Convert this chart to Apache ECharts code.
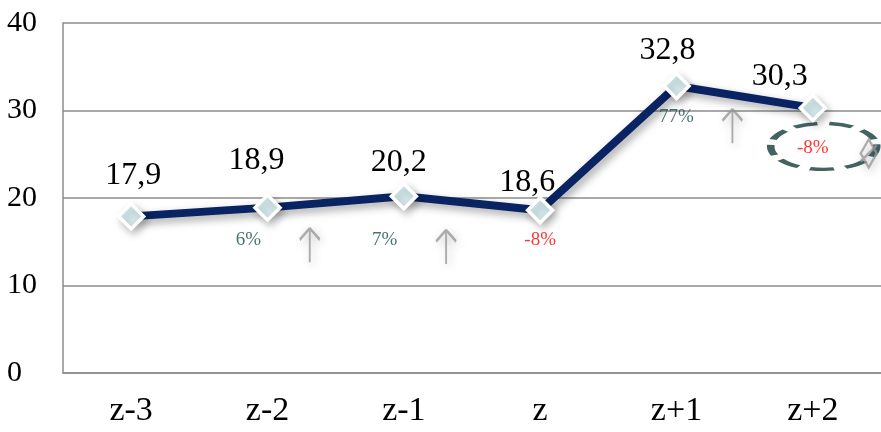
<!DOCTYPE html>
<html>
<head>
<meta charset="utf-8">
<script src="https://cdn.jsdelivr.net/npm/echarts@6/dist/echarts.min.js"></script>
<style>
  html, body { margin: 0; padding: 0; background: #fff; }
  #chart { width: 881px; height: 432px; }
</style>
</head>
<body>
<div id="chart"></div>
<script>
// data
var periods = ['z-3', 'z-2', 'z-1', 'z', 'z+1', 'z+2'];
var values = [17.9, 18.9, 20.2, 18.6, 32.8, 30.3];
var yTicks = [0, 10, 20, 30, 40];

// growth notes: [x in category units, y value, text]
var growthX = [0.86, 1.86, 3.0, 4.0, 5.0];
var growthY = [15.2, 15.2, 15.2, 29.3, 25.7];
var growthText = ['6%', '7%', '-8%', '77%', '-8%'];
var growthRed = [false, false, true, false, true];

// up arrows between points
var arrowX = [1.31, 2.31, 4.41];
var arrowY = [14.6, 14.4, 28.2];

// value label placement around each point (px)
var labelLift = [11, 17, 3, -3, 5, 1];
var labelShift = [2, -11, -5, -13, -9, -33];

var serif = '"Liberation Serif", "DejaVu Serif", serif';
var navy = '#0a2362';
var teal = '#1f4d4d';
var grid = '#8c8c8c';

var chart = echarts.init(document.getElementById('chart'), null, { renderer: 'canvas' });

var arrowPath = 'path://M0,0 L-10,12 M0,0 L10,12 M0,0 L0,36';
var oddPath = 'path://M8,0 L16,14 L8,28 L0,14 Z M0,22 L16,6';

chart.setOption({
  animation: false,
  grid: { left: 63, right: -1, top: 23, bottom: 59 },
  xAxis: [{
    type: 'category',
    data: periods,
    axisLine: { lineStyle: { color: grid, width: 1.5 } },
    axisTick: { show: false },
    axisLabel: { color: '#000', fontFamily: serif, fontSize: 34, margin: 21 }
  }, {
    type: 'value',
    min: -0.5, max: 5.5,
    show: false
  }],
  yAxis: {
    type: 'value',
    min: yTicks[0], max: yTicks[yTicks.length - 1], interval: 10,
    axisLine: { show: true, onZero: false, lineStyle: { color: grid, width: 1.5 } },
    axisTick: { show: false },
    splitLine: { lineStyle: { color: grid, width: 1.5 } },
    axisLabel: { color: '#000', fontFamily: serif, fontSize: 30, align: 'left', margin: 56 }
  },
  series: [{
    type: 'line',
    data: values.map(function (v, i) {
      return { value: v, label: { distance: labelLift[i], offset: [labelShift[i], 0] } };
    }),
    lineStyle: {
      color: navy, width: 8,
      shadowColor: 'rgba(0,0,0,0.35)', shadowBlur: 8, shadowOffsetX: 3, shadowOffsetY: 4
    },
    symbol: 'diamond',
    symbolSize: 25,
    itemStyle: {
      color: '#d8edf0', borderColor: '#fff', borderWidth: 3.5,
      shadowColor: 'rgba(0,0,0,0.25)', shadowBlur: 8, shadowOffsetX: 3, shadowOffsetY: 4
    },
    label: {
      show: true, position: 'top',
      color: '#000', fontFamily: serif, fontSize: 32,
      formatter: function (p) { return String(p.value).replace('.', ','); }
    },
    z: 5
  }, {
    type: 'scatter',
    xAxisIndex: 1,
    data: [[5.08, 25.9]],
    symbol: 'circle',
    symbolSize: [106, 46],
    itemStyle: { color: 'rgba(0,0,0,0)', borderColor: '#143c3c', borderWidth: 5, borderType: [16, 8] },
    silent: true,
    z: 3
  }, {
    type: 'scatter',
    xAxisIndex: 1,
    data: arrowX.map(function (x, i) { return [x, arrowY[i]]; }),
    symbol: arrowPath,
    symbolSize: [20, 34],
    itemStyle: {
      color: 'rgba(0,0,0,0)', borderColor: '#999999', borderWidth: 2.5,
      shadowColor: 'rgba(0,0,0,0.3)', shadowBlur: 10, shadowOffsetX: 2, shadowOffsetY: 3
    },
    silent: true,
    z: 3
  }, {
    type: 'scatter',
    xAxisIndex: 1,
    data: [[5.41, 25.1]],
    symbol: oddPath,
    symbolSize: [16, 28],
    itemStyle: {
      color: 'rgba(0,0,0,0)', borderColor: '#999999', borderWidth: 2.5,
      shadowColor: 'rgba(0,0,0,0.3)', shadowBlur: 10, shadowOffsetX: 2, shadowOffsetY: 3
    },
    silent: true,
    z: 3
  }, {
    type: 'scatter',
    xAxisIndex: 1,
    data: growthX.map(function (x, i) {
      return {
        value: [x, growthY[i]],
        label: { color: growthRed[i] ? '#ff0000' : teal }
      };
    }),
    symbol: 'rect',
    symbolSize: 2,
    itemStyle: { color: 'rgba(0,0,0,0)' },
    label: {
      show: true, position: 'inside',
      fontFamily: serif, fontSize: 19,
      formatter: function (p) { return growthText[p.dataIndex]; }
    },
    silent: true,
    z: 6
  }]
});
window.addEventListener('resize', function () { chart.resize(); });
</script>
</body>
</html>
